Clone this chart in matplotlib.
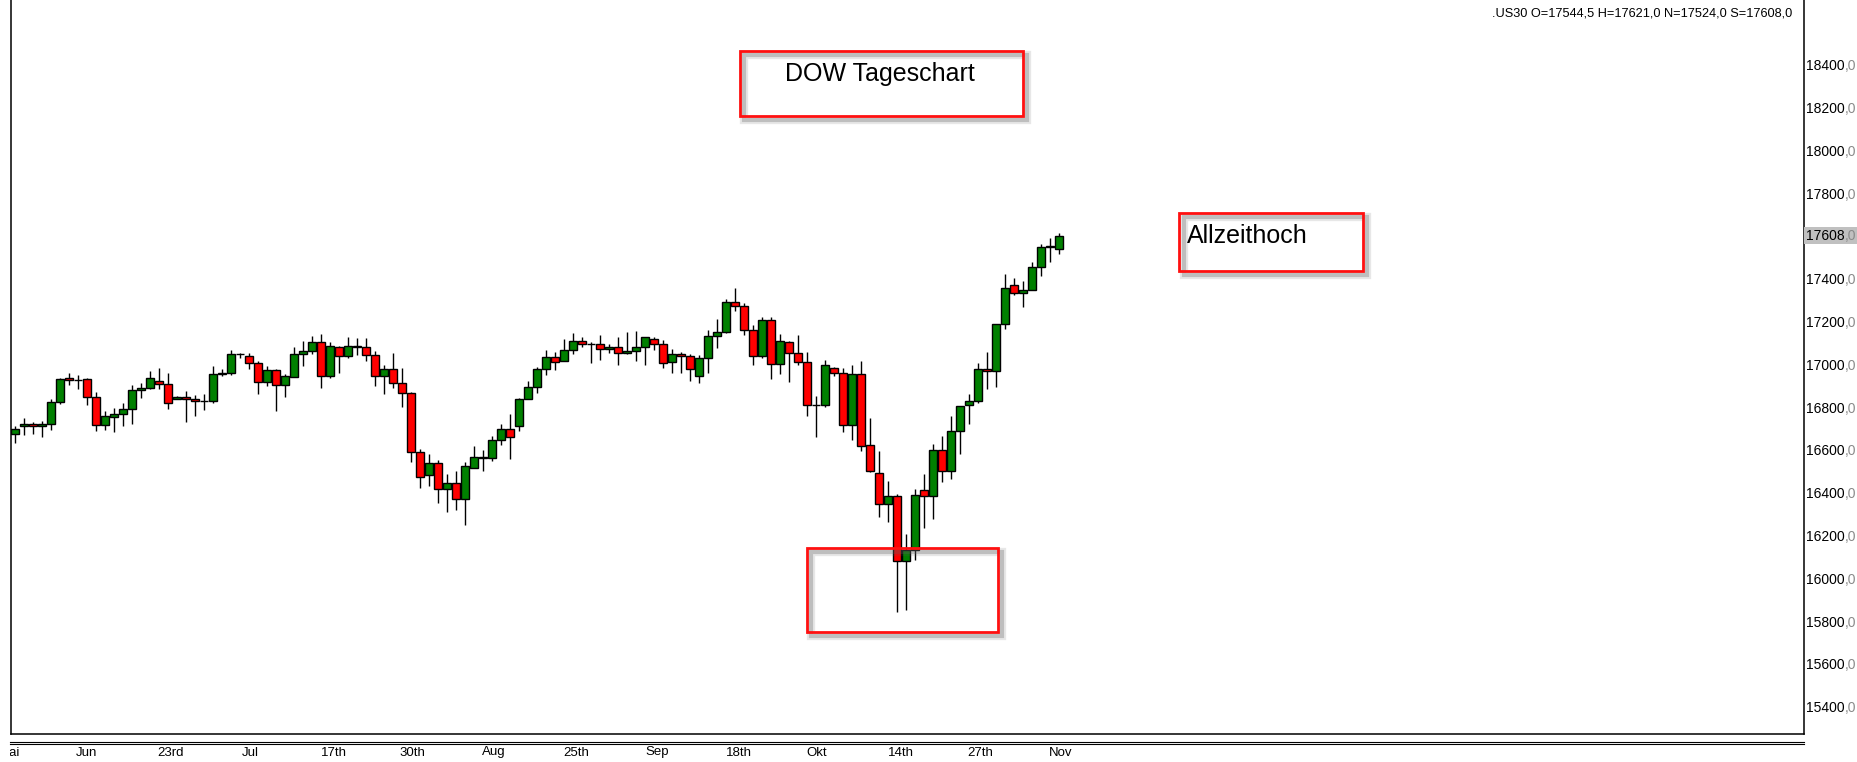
"""
DOW Tageschart: Kerzenchart .US30 (Tageskerzen Mai - Nov) mit Markierungen.
"""
import matplotlib
matplotlib.use("Agg")
import matplotlib.pyplot as plt
import matplotlib.patheffects as pe
from matplotlib import font_manager
from matplotlib.lines import Line2D
from matplotlib.offsetbox import AnnotationBbox, HPacker, TextArea
from matplotlib.patches import Rectangle
from matplotlib.transforms import Bbox, TransformedBbox, blended_transform_factory

# --- Daten -------------------------------------------------------------------
opens = [16680, 16717, 16726, 16717, 16726, 16829, 16941, 16932, 16937, 16853,
         16722, 16759, 16773, 16797, 16886, 16895, 16928, 16914, 16846, 16856,
         16843, 16834, 16834, 16960, 16965, 17053, 17044, 17012, 16923, 16979,
         16909, 16946, 17054, 17068, 17110, 16951, 17086, 17044, 17088, 17086,
         17049, 16951, 16984, 16918, 16871, 16596, 16488, 16544, 16423, 16451,
         16376, 16521, 16568, 16568, 16652, 16703, 16717, 16843, 16899, 16984,
         17040, 17021, 17072, 17115, 17102, 17101, 17077, 17090, 17058, 17068,
         17090, 17124, 17101, 17016, 17054, 17044, 16951, 17035, 17138, 17157,
         17297, 17278, 17166, 17044, 17213, 17007, 17110, 17058, 17016, 16815,
         16815, 16988, 16965, 16722, 16960, 16628, 16498, 16353, 16390, 16086,
         16139, 16418, 16390, 16605, 16507, 16694, 16815, 16834, 16984, 16974,
         17194, 17376, 17339, 17353, 17460, 17554, 17544.5]
highs = [16719, 16755, 16737, 16742, 16845, 16943, 16965, 16957, 16943, 16878,
         16789, 16803, 16826, 16910, 16918, 16976, 16988, 16965, 16861, 16882,
         16864, 16867, 16999, 16985, 17074, 17058, 17058, 17023, 16999, 16984,
         16962, 17088, 17116, 17139, 17149, 17111, 17093, 17135, 17130, 17128,
         17069, 17004, 17058, 16988, 16876, 16611, 16588, 16560, 16494, 16508,
         16550, 16625, 16607, 16672, 16728, 16775, 16850, 16929, 16993, 17074,
         17063, 17124, 17152, 17133, 17110, 17143, 17101, 17133, 17157, 17163,
         17133, 17133, 17121, 17079, 17063, 17054, 17049, 17166, 17217, 17311,
         17364, 17292, 17189, 17227, 17227, 17149, 17116, 17143, 17063, 16859,
         17027, 16993, 16988, 17002, 17023, 16756, 16602, 16462, 16399, 16214,
         16424, 16494, 16635, 16672, 16766, 16811, 16868, 17013, 17065, 17194,
         17428, 17410, 17395, 17484, 17568, 17596, 17621]
lows = [16641, 16678, 16681, 16669, 16702, 16823, 16912, 16892, 16819, 16697,
        16702, 16692, 16720, 16730, 16851, 16890, 16890, 16800, 16843, 16739,
        16767, 16795, 16828, 16951, 16959, 17038, 16987, 16870, 16907, 16790,
        16856, 16946, 17001, 17057, 16898, 16945, 16968, 17038, 17051, 17024,
        16907, 16870, 16898, 16809, 16549, 16430, 16440, 16360, 16318, 16328,
        16256, 16521, 16510, 16557, 16632, 16565, 16697, 16843, 16874, 16959,
        16982, 17021, 17054, 17086, 17015, 17027, 17058, 17005, 17054, 17024,
        17005, 17076, 16991, 16968, 16968, 16931, 16921, 16968, 17085, 17152,
        17255, 17146, 17005, 17035, 16940, 16960, 16926, 17005, 16767, 16669,
        16809, 16954, 16692, 16655, 16604, 16502, 16295, 16272, 15848, 15857,
        16091, 16240, 16282, 16456, 16473, 16586, 16727, 16825, 16890, 16900,
        17174, 17333, 17277, 17353, 17421, 17487, 17524]
closes = [16703, 16726, 16717, 16726, 16829, 16937, 16932, 16934, 16853, 16722,
          16764, 16773, 16797, 16886, 16895, 16942, 16914, 16825, 16856, 16843,
          16834, 16835, 16960, 16966, 17054, 17054, 17012, 16923, 16979, 16909,
          16951, 17054, 17068, 17110, 16951, 17091, 17044, 17091, 17091, 17049,
          16951, 16984, 16918, 16871, 16596, 16479, 16544, 16423, 16451, 16376,
          16530, 16572, 16572, 16652, 16703, 16666, 16843, 16899, 16984, 17040,
          17016, 17072, 17115, 17101, 17100, 17077, 17090, 17058, 17068, 17090,
          17133, 17101, 17012, 17054, 17044, 16984, 17035, 17138, 17157, 17297,
          17280, 17166, 17044, 17213, 17007, 17115, 17058, 17016, 16815, 16816,
          17002, 16965, 16722, 16960, 16624, 16507, 16353, 16390, 16086, 16139,
          16395, 16390, 16605, 16507, 16694, 16811, 16834, 16984, 16974, 17194,
          17362, 17339, 17353, 17460, 17554, 17558, 17608]

date_labels = ["Mai", "Jun", "23rd", "Jul", "17th", "30th", "Aug", "25th",
               "Sep", "18th", "Okt", "14th", "27th", "Nov"]
date_pos = [-0.6, 8.0, 17.3, 26.2, 35.4, 44.2, 53.2, 62.4, 71.4, 80.4, 89.1,
            98.4, 107.3, 116.2]

price_ticks = [15400, 15600, 15800, 16000, 16200, 16400, 16600, 16800, 17000,
               17200, 17400, 17800, 18000, 18200, 18400]
last_price = 17608
header = ".US30 O=17544,5 H=17621,0 N=17524,0 S=17608,0"

W, H = 1857, 762

available = {f.name for f in font_manager.fontManager.ttflist}
if "Liberation Sans Narrow" in available:
    AXIS_FONT, Y_SIZE, X_SIZE = "Liberation Sans Narrow", 11.5, 11
else:
    AXIS_FONT, Y_SIZE, X_SIZE = "Liberation Sans", 10, 9.5

fig = plt.figure(figsize=(W / 100, H / 100), dpi=100)
ax = fig.add_axes([10.7 / W, 28 / H, (1804 - 10.7) / W, 734 / H])
ax.set_xlim(-0.48, 198.8)
ax.set_ylim(15279, 18710)
ax.set_xticks([])
ax.set_yticks([])
ax.spines["top"].set_visible(False)
for side in ("left", "right", "bottom"):
    ax.spines[side].set_linewidth(1.1)

idx = list(range(len(opens)))
colors = ["#008000" if c >= o else "#ff0000" for o, c in zip(opens, closes)]
ax.vlines(idx, lows, highs, color="black", linewidth=1.0, zorder=2)
ax.bar(idx, [c - o for o, c in zip(opens, closes)], bottom=opens, width=0.96,
       color=colors, edgecolor="black", linewidth=1.0, zorder=3)

# Preisachse rechts: "17400" schwarz, ",0" grau
ytrans = ax.get_yaxis_transform()


def price_label(value, boxed=False):
    pack = HPacker(children=[
        TextArea(str(value), textprops=dict(color="black", family=AXIS_FONT, size=Y_SIZE)),
        TextArea(",0", textprops=dict(color="#8a8a8a", family=AXIS_FONT, size=Y_SIZE)),
    ], sep=0, pad=0)
    ab = AnnotationBbox(pack, (1, value), xycoords=ytrans, xybox=(2, 0),
                        boxcoords="offset pixels", box_alignment=(0, 0.5),
                        frameon=boxed, pad=0.12, annotation_clip=False,
                        bboxprops=dict(facecolor="#c0c0c0", edgecolor="none"))
    ax.add_artist(ab)


for p in price_ticks:
    price_label(p)
price_label(last_price, boxed=True)

# Datumsachse (links an der Rahmenkante abgeschnitten, wie im Original)
xtrans = blended_transform_factory(ax.transData, fig.transFigure)
clip = TransformedBbox(Bbox([[10 / W, 0], [1804 / W, 1]]), fig.transFigure)
for pos, lab in zip(date_pos, date_labels):
    t = ax.text(pos, 1 - 752.5 / H, lab, transform=xtrans, ha="center", va="center",
                family=AXIS_FONT, size=X_SIZE)
    t.set_clip_box(clip)
    t.set_clip_on(True)
for yy in (741.7, 744.3):
    fig.add_artist(Line2D([10 / W, 1804 / W], [1 - yy / H, 1 - yy / H],
                          color="black", linewidth=0.8))

fig.text(1792 / W, 1 - 13 / H, header, ha="right", va="center",
         family="Liberation Sans", size=9.2)

# Rote Markierungsboxen mit weichem Schatten
shadow = [pe.SimpleLineShadow(offset=(3, -3), shadow_color="#606060", alpha=0.15,
                              linewidth=6),
          pe.SimpleLineShadow(offset=(3, -3), shadow_color="#606060", alpha=0.3,
                              linewidth=3),
          pe.Normal()]
for x0, x1, y0, y1 in [(80.6, 112.0, 18168, 18471), (129.4, 149.8, 17443, 17714),
                       (88.0, 109.2, 15757, 16149)]:
    ax.add_patch(Rectangle((x0, y0), x1 - x0, y1 - y0, fill=False, edgecolor="#ff1010",
                           linewidth=2.0, zorder=4, path_effects=shadow))
ax.text(96.1, 18331, "DOW Tageschart", ha="center", va="baseline",
        family="Liberation Sans", size=18, zorder=5)
ax.text(130.2, 17574, "Allzeithoch", ha="left", va="baseline",
        family="Liberation Sans", size=18, zorder=5)

fig.savefig("out.png", dpi=100, facecolor="white")
